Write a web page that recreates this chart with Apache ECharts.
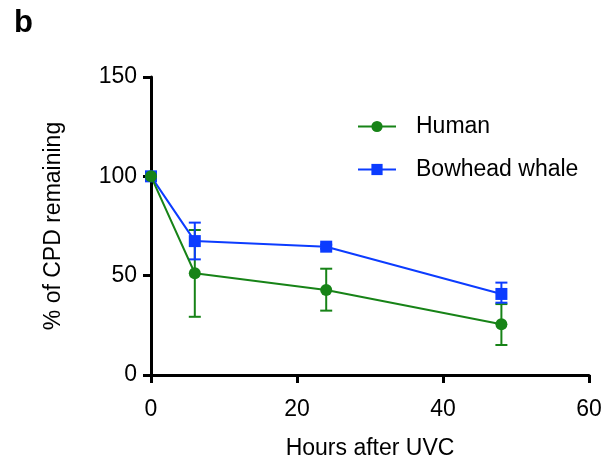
<!DOCTYPE html>
<html>
<head>
<meta charset="utf-8">
<script src="https://cdn.jsdelivr.net/npm/echarts@6/dist/echarts.min.js"></script>
<style>
html,body{margin:0;padding:0;background:#fff;}
#c{width:613px;height:475px;}
</style>
</head>
<body>
<div id="c"></div>
<script>
const hours = [0, 6, 24, 48];
const humanMean = [100, 51.2, 42.8, 25.5];
const humanLow  = [100, 29.3, 32.4, 15.1];
const humanHigh = [100, 73.0, 53.5, 35.7];
const whaleMean = [100, 67.4, 64.6, 40.8];
const whaleLow  = [100, 58.2, 63.6, 36.4];
const whaleHigh = [100, 76.7, 65.6, 46.5];
const seriesNames = ['Human', 'Bowhead whale'];
const xTicks = [0, 20, 40, 60];
const yTicks = [0, 50, 100, 150];

const GREEN = '#178317';
const BLUE = '#0c3cff';
const FONT = 'Arial, "Liberation Sans", sans-serif';

function pairs(x, y) { return x.map((v, i) => [v, y[i]]); }
function errData(x, lo, hi) { return x.map((v, i) => [v, lo[i], hi[i]]); }

function errRender(color) {
  return function (params, api) {
    const x = api.value(0);
    const lo = api.coord([x, api.value(1)]);
    const hi = api.coord([x, api.value(2)]);
    const cap = 6;
    const style = { stroke: color, lineWidth: 2 };
    return {
      type: 'group',
      children: [
        { type: 'line', shape: { x1: lo[0], y1: lo[1], x2: hi[0], y2: hi[1] }, style },
        { type: 'line', shape: { x1: lo[0] - cap, y1: lo[1], x2: lo[0] + cap, y2: lo[1] }, style },
        { type: 'line', shape: { x1: hi[0] - cap, y1: hi[1], x2: hi[0] + cap, y2: hi[1] }, style }
      ]
    };
  };
}

const chart = echarts.init(document.getElementById('c'), null, { renderer: 'canvas' });
const axisCommon = {
  axisLine: { show: true, lineStyle: { color: '#000', width: 3 } },
  axisTick: { show: true, inside: false, length: 8, lineStyle: { color: '#000', width: 3 } },
  splitLine: { show: false },
  nameLocation: 'middle',
  nameTextStyle: { fontFamily: FONT, fontSize: 23, color: '#000' }
};
chart.setOption({
  animation: false,
  backgroundColor: '#fff',
  title: {
    text: 'b', left: 9, top: 3,
    textStyle: { fontFamily: FONT, fontSize: 31, fontWeight: 'bold', color: '#000' }
  },
  grid: { left: 151, right: 24, top: 77, bottom: 100 },
  legend: {
    orient: 'vertical', left: 352, top: 110,
    itemWidth: 38, itemHeight: 14, itemGap: 20,
    data: seriesNames,
    textStyle: { fontFamily: FONT, fontSize: 23, color: '#000', padding: [0, 0, 0, 15] }
  },
  xAxis: Object.assign({}, axisCommon, {
    type: 'value', min: xTicks[0], max: xTicks[xTicks.length - 1], interval: 20,
    name: 'Hours after UVC', nameGap: 62,
    axisLabel: { fontFamily: FONT, fontSize: 23, color: '#000', margin: 23 }
  }),
  yAxis: Object.assign({}, axisCommon, {
    type: 'value', min: yTicks[0], max: yTicks[yTicks.length - 1], interval: 50,
    name: '% of CPD remaining', nameGap: 86,
    axisLabel: { fontFamily: FONT, fontSize: 23, color: '#000', margin: 14 }
  }),
  series: [
    {
      name: 'humanErr', type: 'custom', renderItem: errRender(GREEN),
      data: errData(hours, humanLow, humanHigh), z: 3, silent: true
    },
    {
      name: 'whaleErr', type: 'custom', renderItem: errRender(BLUE),
      data: errData(hours, whaleLow, whaleHigh), z: 3, silent: true
    },
    {
      name: seriesNames[1], type: 'line', data: pairs(hours, whaleMean),
      symbol: 'rect', symbolSize: 12, color: BLUE,
      lineStyle: { color: BLUE, width: 2 }, itemStyle: { color: BLUE }, z: 4
    },
    {
      name: seriesNames[0], type: 'line', data: pairs(hours, humanMean),
      symbol: 'circle', symbolSize: 12, color: GREEN,
      lineStyle: { color: GREEN, width: 2 }, itemStyle: { color: GREEN }, z: 5
    }
  ]
});
</script>
</body>
</html>
